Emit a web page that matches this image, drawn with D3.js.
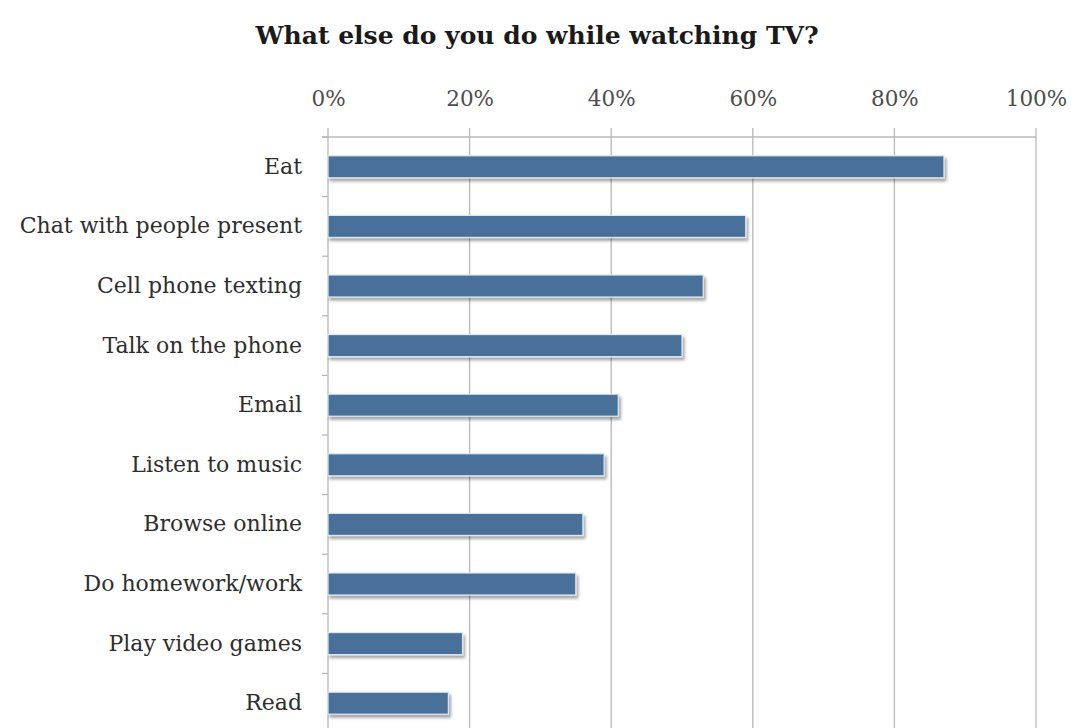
<!DOCTYPE html>
<html>
<head>
<meta charset="utf-8">
<script src="https://cdn.jsdelivr.net/npm/d3@7"></script>
<style>
  html, body { margin: 0; padding: 0; background: #fff; }
  svg { display: block; }
</style>
</head>
<body>
<svg id="chart" width="1071" height="728"></svg>
<script>
// Activities done while watching TV, share of respondents
const categories = [
  "Eat", "Chat with people present", "Cell phone texting", "Talk on the phone",
  "Email", "Listen to music", "Browse online", "Do homework/work",
  "Play video games", "Read"
];
const values = [0.87, 0.59, 0.53, 0.50, 0.41, 0.39, 0.36, 0.35, 0.19, 0.17];
const tickValues = [0, 0.2, 0.4, 0.6, 0.8, 1.0];
const title = "What else do you do while watching TV?";

const svg = d3.select("#chart");
const serif = "'DejaVu Serif', 'Liberation Serif', serif";

const plotLeft = 328, plotRight = 1036, plotTop = 137, plotBottom = 733;

const x = d3.scaleLinear().domain([0, 1]).range([plotLeft, plotRight]);
const y = d3.scaleBand().domain(categories).range([plotTop, plotBottom]).paddingInner(0.63).paddingOuter(0.315);

// soft drop shadow under the bars
const defs = svg.append("defs");
const f = defs.append("filter").attr("id", "shadow")
  .attr("x", "-5%").attr("y", "-40%").attr("width", "115%").attr("height", "200%");
f.append("feDropShadow").attr("dx", 2).attr("dy", 3).attr("stdDeviation", 1.6)
  .attr("flood-color", "#000").attr("flood-opacity", 0.35);

// title
svg.append("text")
  .attr("x", 537).attr("y", 44)
  .attr("text-anchor", "middle")
  .attr("font-family", serif).attr("font-weight", "bold")
  .attr("font-size", 25).attr("fill", "#1a1a1a")
  .text(title);

// vertical gridlines
svg.append("g").selectAll("line").data(tickValues).join("line")
  .attr("x1", d => x(d)).attr("x2", d => x(d))
  .attr("y1", plotTop - 9).attr("y2", 728)
  .attr("stroke", "#b8b8b8").attr("stroke-width", 1.3);

// top axis line
svg.append("line")
  .attr("x1", plotLeft - 6).attr("x2", plotRight).attr("y1", plotTop).attr("y2", plotTop)
  .attr("stroke", "#b8b8b8").attr("stroke-width", 1.3);

// top axis labels
const xAxis = d3.axisTop(x).tickValues(tickValues).tickFormat(d3.format(".0%")).tickSize(0).tickPadding(0);
const gx = svg.append("g").attr("transform", `translate(0, ${plotTop - 31})`).call(xAxis);
gx.select(".domain").remove();
gx.selectAll("text")
  .attr("font-family", serif).attr("font-size", 21.5).attr("fill", "#4d4d4d");

// left axis tick marks at category boundaries
const bounds = d3.range(categories.length + 1).map(i => plotTop + i * y.step());
svg.append("g").selectAll("line").data(bounds).join("line")
  .attr("x1", plotLeft - 6).attr("x2", plotLeft)
  .attr("y1", d => d).attr("y2", d => d)
  .attr("stroke", "#b8b8b8").attr("stroke-width", 1.3);

// category labels
const yAxis = d3.axisLeft(y).tickSize(0).tickPadding(26);
const gy = svg.append("g").attr("transform", `translate(${plotLeft}, 0)`).call(yAxis);
gy.select(".domain").remove();
gy.selectAll("text")
  .attr("font-family", serif).attr("font-size", 22).attr("fill", "#2e2e2e");

// bars
svg.append("g").selectAll("rect").data(values).join("rect")
  .attr("x", x(0))
  .attr("y", (d, i) => y(categories[i]))
  .attr("width", d => x(d) - x(0))
  .attr("height", y.bandwidth())
  .attr("fill", "#4a7098")
  .attr("stroke", "#dce8f4").attr("stroke-width", 1.2)
  .attr("filter", "url(#shadow)");
</script>
</body>
</html>
